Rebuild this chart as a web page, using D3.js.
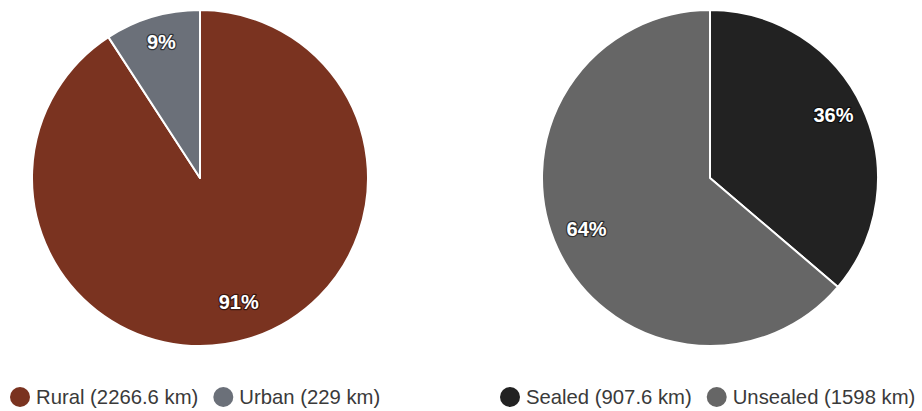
<!DOCTYPE html>
<html>
<head>
<meta charset="utf-8">
<script src="https://cdn.jsdelivr.net/npm/d3@7"></script>
<style>
  html, body { margin: 0; padding: 0; background: #fff; }
  svg { display: block; }
</style>
</head>
<body>
<svg id="chart" width="922" height="411"></svg>
<script>
// Road length by area type
const areaLabels = ["Rural", "Urban"];
const areaKm = [2266.6, 229];
const areaColors = ["#7a3320", "#6b7079"];

// Road length by surface type
const surfaceLabels = ["Sealed", "Unsealed"];
const surfaceKm = [907.6, 1598];
const surfaceColors = ["#222222", "#666666"];

const svg = d3.select("#chart");
const radius = 168;
const labelRadius = 136;

function drawPie(cx, cy, labels, values, colors, legendX) {
  const data = labels.map((l, i) => ({ label: l, value: values[i], color: colors[i] }));
  const total = d3.sum(values);
  const pie = d3.pie().value(d => d.value).sort(null);
  const arc = d3.arc().innerRadius(0).outerRadius(radius);
  const labelArc = d3.arc().innerRadius(labelRadius).outerRadius(labelRadius);
  const arcs = pie(data);

  const g = svg.append("g").attr("transform", `translate(${cx},${cy})`);
  g.selectAll("path.slice")
    .data(arcs)
    .join("path")
    .attr("class", "slice")
    .attr("d", arc)
    .attr("fill", d => d.data.color)
    .attr("stroke", "#ffffff")
    .attr("stroke-width", 2)
    .attr("stroke-linejoin", "round");

  // percentage labels sit slightly above the slice centroid
  g.selectAll("text.pct")
    .data(arcs)
    .join("text")
    .attr("class", "pct")
    .attr("transform", d => {
      const [x, y] = labelArc.centroid(d);
      return `translate(${x},${y - 6})`;
    })
    .attr("text-anchor", "middle")
    .attr("dominant-baseline", "central")
    .style("font-family", "'Liberation Sans', Arial, sans-serif")
    .style("font-size", "20px")
    .style("font-weight", "bold")
    .style("fill", "#ffffff")
    .style("stroke", "rgba(0,0,0,0.55)")
    .style("stroke-width", "2.5px")
    .style("stroke-linejoin", "round")
    .style("paint-order", "stroke")
    .text(d => Math.round(d.data.value / total * 100) + "%");

  // legend row
  const lg = svg.append("g").attr("transform", "translate(0,397)");
  let x = legendX;
  data.forEach(d => {
    lg.append("circle")
      .attr("cx", x)
      .attr("cy", 0)
      .attr("r", 10)
      .attr("fill", d.color);
    const t = lg.append("text")
      .attr("x", x + 16)
      .attr("y", 0)
      .attr("dominant-baseline", "central")
      .style("font-family", "'Liberation Sans', Arial, sans-serif")
      .style("font-size", "20.3px")
      .style("fill", "#3a3a3a")
      .text(`${d.label} (${d.value} km)`);
    x = x + 16 + t.node().getComputedTextLength() + 25;
  });
}

drawPie(200, 178, areaLabels, areaKm, areaColors, 20);
drawPie(710, 178, surfaceLabels, surfaceKm, surfaceColors, 510);
</script>
</body>
</html>
